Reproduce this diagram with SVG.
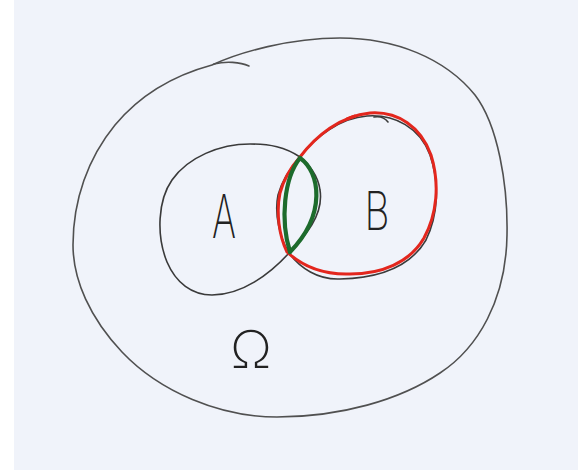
<svg xmlns="http://www.w3.org/2000/svg" width="578" height="470" viewBox="0 0 578 470">
<style>
.pen{fill:none;stroke:#3a3a3a;stroke-width:1.6;stroke-linecap:round;stroke-linejoin:round}
.outer{fill:none;stroke:#505050;stroke-width:1.6;stroke-linecap:round}
.red{fill:none;stroke:#e3261d;stroke-width:3;stroke-linecap:round;stroke-linejoin:round}
.green{fill:none;stroke:#1d6b2c;stroke-width:4.2;stroke-linecap:round}
.lbl{font-family:Inter,"Liberation Sans",sans-serif;font-weight:200;fill:#222}
</style>
<rect x="0" y="0" width="578" height="470" fill="#ffffff"/>
<rect x="14" y="0" width="564" height="470" fill="#f0f3fa"/>
<g id="omega">
<path class="outer" d="M212,65 C240,52 290,38 340,38 C395,38 445,58 475,95 C498,125 508,185 507,235 C506,300 478,348 440,373 C400,400 340,417 277,417 C220,417 160,392 122,352 C90,318 73,280 73,245 C73,200 88,158 115,125 C140,95 175,75 212,65"/>
<path class="outer" d="M214,64 C226,61 240,62 249,66" stroke-width="1"/>
<text class="lbl" x="251" y="368" font-size="52" text-anchor="middle" textLength="42" lengthAdjust="spacingAndGlyphs">Ω</text>
</g>
<g id="setA">
<path class="pen" d="M300,157 C285,147 270,144 250,144 C220,144 188,157 172,180 C158,200 156,235 167,262 C176,283 192,295 212,295 C242,295 270,274 289,253 C305,236 324,215 320,190 C318,175 308,163 300,157"/>
<text class="lbl" x="224" y="238" font-size="60" text-anchor="middle" textLength="24" lengthAdjust="spacingAndGlyphs">A</text>
</g>
<g id="setB">
<path class="pen" d="M300,157 C315,137 340,118 367,116 C395,114 420,128 430,155 C440,185 438,215 426,240 C412,264 385,278 340,279 C318,280 300,268 289,253 C280,238 274,215 278,195 C282,180 292,166 300,157"/>
<path class="pen" d="M374,117 C380,116 385,118 388,122" stroke-width="1"/>
<path class="red" d="M300,157 C316,136 340,116 370,113 C398,111 421,127 431,155 C440,184 437,214 424,238 C410,262 382,275 346,274 C320,274 300,264 287,252 C279,236 276,212 280,193 C284,178 292,166 300,157"/>
<path class="red" d="M347,119 L355,116" stroke-width="4"/>
<text class="lbl" x="377" y="230" font-size="53" text-anchor="middle" textLength="25" lengthAdjust="spacingAndGlyphs">B</text>
</g>
<g id="intersection">
<path class="green" d="M300,158 C320,172 327,214 290,252"/>
<path class="green" d="M300,158 C284,178 280,220 290,252"/>
</g>
</svg>
